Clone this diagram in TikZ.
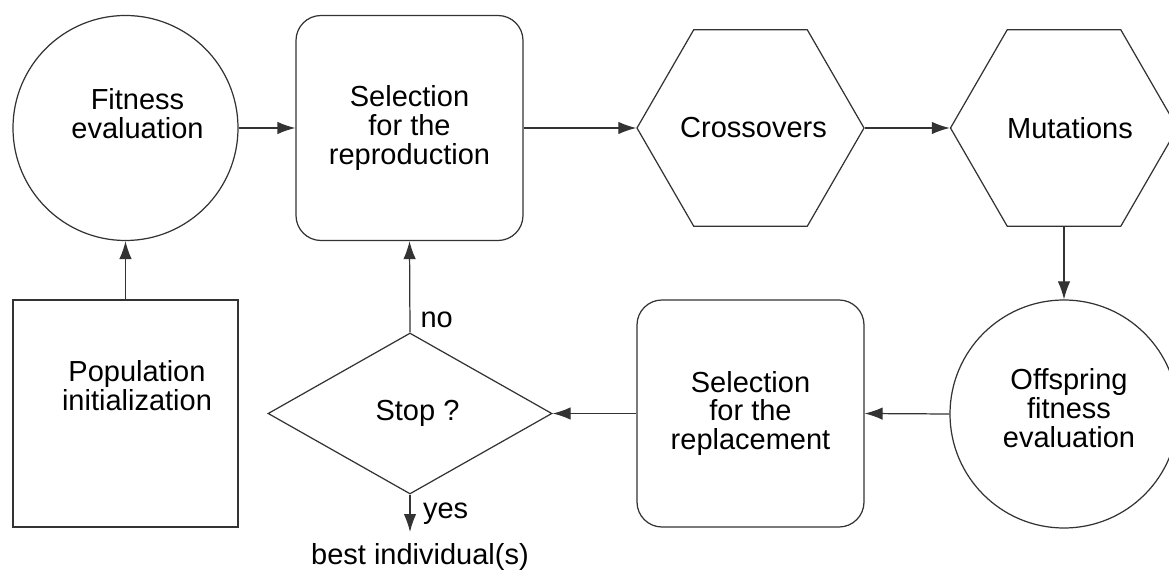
\documentclass[tikz,border=0pt]{standalone}
\usepackage{fontspec}
\setmainfont{Liberation Sans}
\usetikzlibrary{shapes.geometric,arrows.meta}

\tikzset{
  every node/.style={font=\fontsize{16.5}{16.5}\selectfont, align=center},
  shp/.style={draw=black!80, line width=0.7pt, inner sep=0pt},
  rnd/.style={shp, circle, minimum size=4.5cm},
  rbox/.style={shp, rectangle, rounded corners=0.5cm, minimum width=4.54cm, minimum height=4.5cm},
  hexa/.style={shp, regular polygon, regular polygon sides=6, minimum size=4.54cm},
  arr/.style={draw=black!80, line width=0.7pt, -{Latex[length=0.36cm,width=0.25cm]}},
}

\begin{document}
\begin{tikzpicture}
  \useasboundingbox (0,0) rectangle (23.38,11.4);
  % top row
  \node[rnd, label={[xshift=0.24cm,yshift=0.28cm]center:Fitness\\evaluation}] (fit) at (2.51,8.84) {};
  \node[rbox] (repro) at (8.19,8.84) {Selection\\for the\\reproduction};
  \node[hexa, label={[xshift=0.06cm]center:Crossovers}] (cross) at (15.01,8.84) {};
  \node[hexa, label={[xshift=0.12cm]center:Mutations}] (mut) at (21.28,8.84) {};
  % bottom row
  \node[shp, rectangle, minimum width=4.5cm, minimum height=4.54cm,
        label={[xshift=0.23cm,yshift=0.55cm]center:Population\\initialization}] (pop) at (2.51,3.13) {};
  \node[shp, diamond, minimum width=5.68cm, minimum height=3.22cm] (stop) at (8.2,3.13) {\hspace{0.3cm}Stop ?};
  \node[rbox, minimum height=4.54cm] (repl) at (15.01,3.13) {Selection\\for the\\replacement};
  \node[rnd, minimum size=4.56cm] (off) at (21.28,3.12) {};
  \node (offtxt) at (21.38,3.24) {Offspring\\fitness\\evaluation};
  \coordinate (out) at (8.2,0.76);
  \node (best) at (8.4,0.26) {best individual(s)};

  \draw[arr] (pop.north) -- (fit.south);
  \draw[arr] (fit.east) -- (repro.west);
  \draw[arr] (repro.east) -- (cross.west);
  \draw[arr] (cross.east) -- (mut.west);
  \draw[arr] (mut.south) -- (off.north);
  \draw[arr] (off.west) -- (repl.east);
  \draw[arr] (repl.west) -- (stop.east);
  \draw[arr] (stop.north) -- node[pos=0.14, right, inner sep=0.2cm]{no} (repro.south);
  \draw[arr] (stop.south) -- node[pos=0.5, right, inner sep=0.25cm]{yes} (out);
\end{tikzpicture}
\end{document}
